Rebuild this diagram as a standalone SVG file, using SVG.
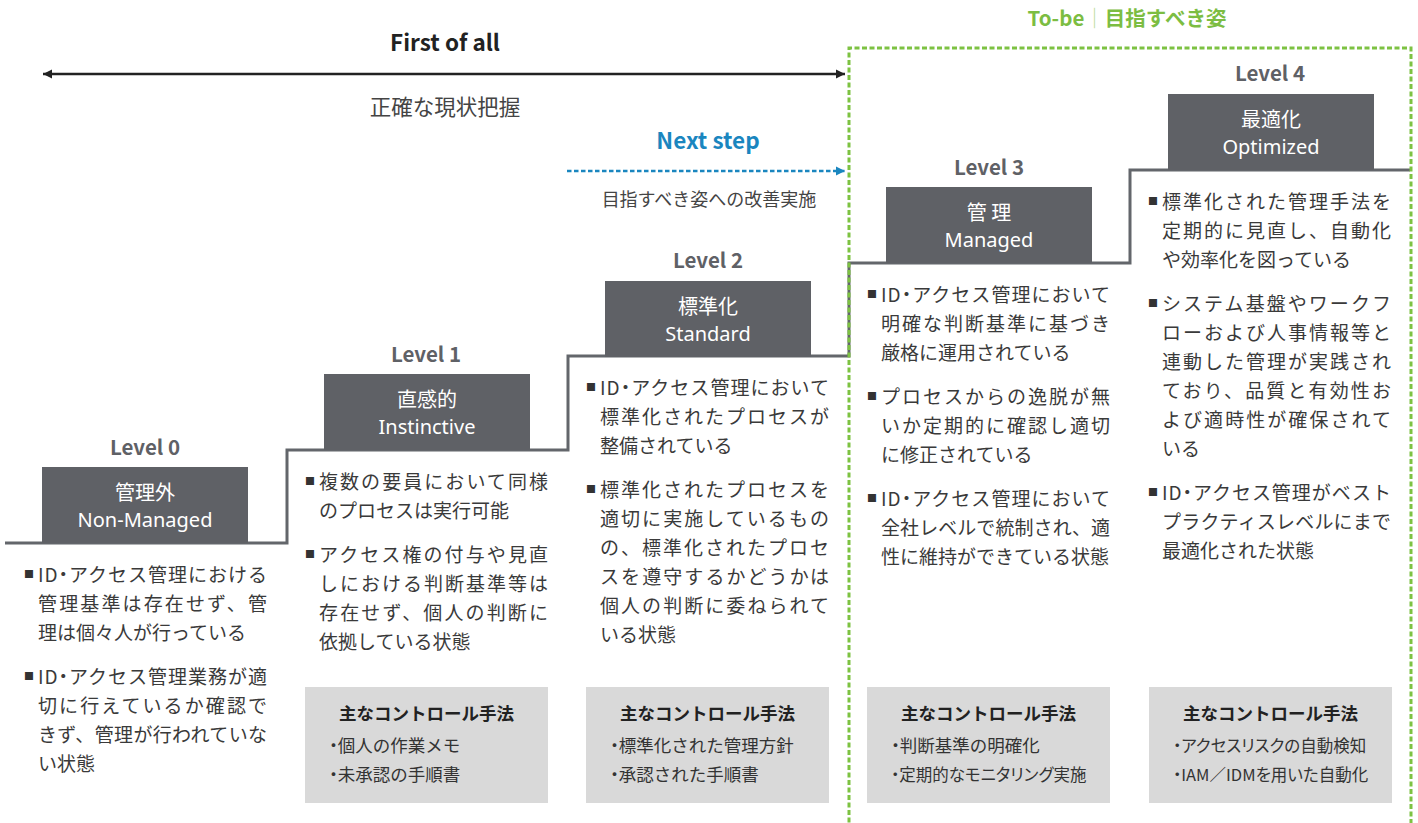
<svg xmlns="http://www.w3.org/2000/svg" width="1418" height="823" viewBox="0 0 1418 823">
<style>
text{font-family:"Noto Sans CJK JP","Noto Sans",sans-serif}
.hd{font-weight:700;font-size:22.5px;text-anchor:middle}
.sub{fill:#444;text-anchor:middle}
.lvl{font-weight:700;font-size:20.5px;fill:#5f6166;text-anchor:middle}
.box{fill:#5f6166}
.bj{font-size:20px;fill:#fff;text-anchor:middle}
.be{font-family:"Noto Sans","Noto Sans CJK JP",sans-serif;font-size:20px;fill:#fff;text-anchor:middle}
.t{font-size:19px;fill:#3a3a3a}
.b{font-size:10px;fill:#333}
.ctl{fill:#d9d9d9}
.ct{font-weight:700;font-size:17.5px;fill:#222;text-anchor:middle}
.ci{font-size:17.5px;fill:#333}
.cs{font-size:16.5px}
.p{font-feature-settings:"palt"}
</style>
<defs>
<marker id="ak" markerUnits="userSpaceOnUse" markerWidth="10" markerHeight="10" refX="9" refY="5" orient="auto-start-reverse"><path d="M0,0.5 L9,5 L0,9.5 Z" fill="#222"/></marker>
<marker id="ab" markerUnits="userSpaceOnUse" markerWidth="10" markerHeight="10" refX="9" refY="5" orient="auto"><path d="M0,0.5 L9,5 L0,9.5 Z" fill="#1a86bf"/></marker>
</defs>
<rect width="1418" height="823" fill="#fff"/>

<path id="stairs" d="M5,543 H287 V450 H568 V356 H849 V263 H1130 V170 H1410" fill="none" stroke="#63666b" stroke-width="3"/>

<g id="connectors">
<line x1="43" y1="74" x2="845" y2="74" stroke="#222" stroke-width="2.5" marker-start="url(#ak)" marker-end="url(#ak)"/>
<line x1="567" y1="171" x2="845" y2="171" stroke="#1a86bf" stroke-width="2.5" stroke-dasharray="4.5 2.5" marker-end="url(#ab)"/>
</g>

<g id="header">
<text class="hd" x="445" y="51" fill="#222">First of all</text>
<text class="sub" x="445" y="115" font-size="21.5">正確な現状把握</text>
<text class="hd" x="708" y="149" fill="#1a86bf">Next step</text>
<text class="sub" x="709" y="206" font-size="18">目指すべき姿への改善実施</text>
<text x="1127" y="26" font-size="20.5" font-weight="700" fill="#7cbd42" text-anchor="middle">To-be<tspan font-weight="300" fill="#b5d98f">｜</tspan>目指すべき姿</text>
</g>

<g id="level0">
<text class="lvl" x="145" y="455">Level 0</text>
<rect class="box" x="42" y="467" width="206" height="76"/>
<text class="bj" x="145" y="500">管理外</text>
<text class="be" x="145" y="527">Non-Managed</text>
<text class="b" x="24" y="578">■</text>
<text class="t" x="38" y="582" textLength="229" lengthAdjust="spacing">ID<tspan class="p">・</tspan>アクセス管理における</text>
<text class="t" x="38" y="611" textLength="229" lengthAdjust="spacing">管理基準は存在せず、管</text>
<text class="t" x="38" y="640">理は個々人が行っている</text>
<text class="b" x="24" y="680">■</text>
<text class="t" x="38" y="684" textLength="229" lengthAdjust="spacing">ID<tspan class="p">・</tspan>アクセス管理業務が適</text>
<text class="t" x="38" y="713" textLength="229" lengthAdjust="spacing">切に行えているか確認で</text>
<text class="t" x="38" y="742" textLength="229" lengthAdjust="spacing">きず、管理が行われていな</text>
<text class="t" x="38" y="771">い状態</text>
</g>

<g id="level1">
<text class="lvl" x="426" y="362">Level 1</text>
<rect class="box" x="324" y="374" width="206" height="76"/>
<text class="bj" x="427" y="407">直感的</text>
<text class="be" x="427" y="434">Instinctive</text>
<text class="b" x="305" y="485">■</text>
<text class="t" x="319" y="489" textLength="229" lengthAdjust="spacing">複数の要員において同様</text>
<text class="t" x="319" y="518">のプロセスは実行可能</text>
<text class="b" x="305" y="558">■</text>
<text class="t" x="319" y="562" textLength="229" lengthAdjust="spacing">アクセス権の付与や見直</text>
<text class="t" x="319" y="591" textLength="229" lengthAdjust="spacing">しにおける判断基準等は</text>
<text class="t" x="319" y="620" textLength="229" lengthAdjust="spacing">存在せず、個人の判断に</text>
<text class="t" x="319" y="649">依拠している状態</text>
<rect class="ctl" x="305" y="687" width="243" height="116"/>
<text class="ct" x="426.5" y="720">主なコントロール手法</text>
<text class="ci" x="329" y="752"><tspan class="p">・</tspan>個人の作業メモ</text>
<text class="ci" x="329" y="781"><tspan class="p">・</tspan>未承認の手順書</text>
</g>

<g id="level2">
<text class="lvl" x="708" y="268">Level 2</text>
<rect class="box" x="605" y="281" width="206" height="76"/>
<text class="bj" x="708" y="314">標準化</text>
<text class="be" x="708" y="341">Standard</text>
<text class="b" x="586" y="391">■</text>
<text class="t" x="600" y="395" textLength="229" lengthAdjust="spacing">ID<tspan class="p">・</tspan>アクセス管理において</text>
<text class="t" x="600" y="424" textLength="229" lengthAdjust="spacing">標準化されたプロセスが</text>
<text class="t" x="600" y="453">整備されている</text>
<text class="b" x="586" y="493">■</text>
<text class="t" x="600" y="497" textLength="229" lengthAdjust="spacing">標準化されたプロセスを</text>
<text class="t" x="600" y="526" textLength="229" lengthAdjust="spacing">適切に実施しているもの</text>
<text class="t" x="600" y="555" textLength="229" lengthAdjust="spacing">の、標準化されたプロセ</text>
<text class="t" x="600" y="584" textLength="229" lengthAdjust="spacing">スを遵守するかどうかは</text>
<text class="t" x="600" y="613" textLength="229" lengthAdjust="spacing">個人の判断に委ねられて</text>
<text class="t" x="600" y="642">いる状態</text>
<rect class="ctl" x="586" y="687" width="243" height="116"/>
<text class="ct" x="707.5" y="720">主なコントロール手法</text>
<text class="ci" x="610" y="752"><tspan class="p">・</tspan>標準化された管理方針</text>
<text class="ci" x="610" y="781"><tspan class="p">・</tspan>承認された手順書</text>
</g>

<g id="level3">
<text class="lvl" x="989" y="175">Level 3</text>
<rect class="box" x="886" y="187" width="206" height="76"/>
<text class="bj" x="989" y="220">管 理</text>
<text class="be" x="989" y="247">Managed</text>
<text class="b" x="867" y="298">■</text>
<text class="t" x="881" y="302" textLength="229" lengthAdjust="spacing">ID<tspan class="p">・</tspan>アクセス管理において</text>
<text class="t" x="881" y="331" textLength="229" lengthAdjust="spacing">明確な判断基準に基づき</text>
<text class="t" x="881" y="360">厳格に運用されている</text>
<text class="b" x="867" y="400">■</text>
<text class="t" x="881" y="404" textLength="229" lengthAdjust="spacing">プロセスからの逸脱が無</text>
<text class="t" x="881" y="433" textLength="229" lengthAdjust="spacing">いか定期的に確認し適切</text>
<text class="t" x="881" y="462">に修正されている</text>
<text class="b" x="867" y="502">■</text>
<text class="t" x="881" y="506" textLength="229" lengthAdjust="spacing">ID<tspan class="p">・</tspan>アクセス管理において</text>
<text class="t" x="881" y="535" textLength="229" lengthAdjust="spacing">全社レベルで統制され、適</text>
<text class="t" x="881" y="564">性に維持ができている状態</text>
<rect class="ctl" x="867" y="687" width="243" height="116"/>
<text class="ct" x="988.5" y="720">主なコントロール手法</text>
<text class="ci" x="891" y="752"><tspan class="p">・</tspan>判断基準の明確化</text>
<text class="ci cs p" x="891" y="781">・定期的なモニタリング実施</text>
</g>

<g id="level4">
<text class="lvl" x="1270" y="81">Level 4</text>
<rect class="box" x="1168" y="94" width="206" height="76"/>
<text class="bj" x="1271" y="127">最適化</text>
<text class="be" x="1271" y="154">Optimized</text>
<text class="b" x="1148" y="205">■</text>
<text class="t" x="1162" y="209" textLength="229" lengthAdjust="spacing">標準化された管理手法を</text>
<text class="t" x="1162" y="238" textLength="229" lengthAdjust="spacing">定期的に見直し、自動化</text>
<text class="t" x="1162" y="267">や効率化を図っている</text>
<text class="b" x="1148" y="307">■</text>
<text class="t" x="1162" y="311" textLength="229" lengthAdjust="spacing">システム基盤やワークフ</text>
<text class="t" x="1162" y="340" textLength="229" lengthAdjust="spacing">ローおよび人事情報等と</text>
<text class="t" x="1162" y="369" textLength="229" lengthAdjust="spacing">連動した管理が実践され</text>
<text class="t" x="1162" y="398" textLength="229" lengthAdjust="spacing">ており、品質と有効性お</text>
<text class="t" x="1162" y="427" textLength="229" lengthAdjust="spacing">よび適時性が確保されて</text>
<text class="t" x="1162" y="456">いる</text>
<text class="b" x="1148" y="496">■</text>
<text class="t" x="1162" y="500" textLength="229" lengthAdjust="spacing">ID<tspan class="p">・</tspan>アクセス管理がベスト</text>
<text class="t" x="1162" y="529" textLength="229" lengthAdjust="spacing">プラクティスレベルにまで</text>
<text class="t" x="1162" y="558">最適化された状態</text>
<rect class="ctl" x="1149" y="687" width="243" height="116"/>
<text class="ct" x="1270.5" y="720">主なコントロール手法</text>
<text class="ci cs p" x="1173" y="752">・アクセスリスクの自動検知</text>
<text class="ci cs p" x="1173" y="781">・IAM／IDMを用いた自動化</text>
</g>

<path id="tobe-frame" d="M849,830 V48 H1411 V830" fill="none" stroke="#7dc242" stroke-width="3" stroke-dasharray="5 2.5"/>
</svg>
